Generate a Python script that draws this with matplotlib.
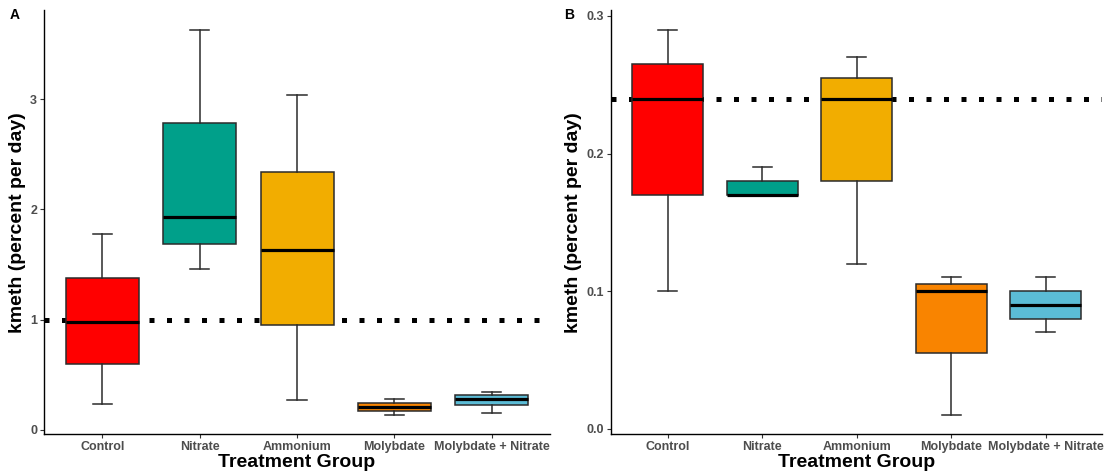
import matplotlib.pyplot as plt

plt.rcParams["font.family"] = ["Liberation Sans", "DejaVu Sans"]
plt.rcParams["font.weight"] = "bold"

groups = ["Control", "Nitrate", "Ammonium", "Molybdate", "Molybdate + Nitrate"]
colors = ["#FF0000", "#00A08A", "#F2AD00", "#F98400", "#5BBCD6"]

# panel A: kmeth summary per group (whisker low, q1, median, q3, whisker high)
a_low = [0.23, 1.46, 0.27, 0.135, 0.155]
a_q1 = [0.60, 1.69, 0.95, 0.17, 0.22]
a_med = [0.98, 1.93, 1.63, 0.21, 0.28]
a_q3 = [1.38, 2.78, 2.34, 0.245, 0.315]
a_high = [1.78, 3.63, 3.04, 0.28, 0.345]
a_ref = 1.0

# panel B
b_low = [0.10, 0.17, 0.12, 0.01, 0.07]
b_q1 = [0.17, 0.17, 0.18, 0.055, 0.08]
b_med = [0.24, 0.17, 0.24, 0.10, 0.09]
b_q3 = [0.265, 0.18, 0.255, 0.105, 0.10]
b_high = [0.29, 0.19, 0.27, 0.11, 0.11]
b_ref = 0.24


def draw_panel(ax, low, q1, med, q3, high, ref, ylim, yticks, ylabels):
    stats = []
    for i in range(len(groups)):
        stats.append({"whislo": low[i], "q1": q1[i], "med": med[i],
                      "q3": q3[i], "whishi": high[i], "fliers": []})
    ax.axhline(ref, color="black", lw=3.6, linestyle=(0, (1, 2.5)),
               dash_capstyle="butt", zorder=1)
    bp = ax.bxp(stats, positions=range(1, 6), widths=0.75, patch_artist=True,
                showfliers=False,
                boxprops=dict(edgecolor="#2b2b2b", linewidth=1.1),
                medianprops=dict(color="black", linewidth=2.3),
                whiskerprops=dict(color="#2b2b2b", linewidth=1.1),
                capprops=dict(color="#2b2b2b", linewidth=1.1),
                capwidths=0.2, zorder=2)
    for patch, c in zip(bp["boxes"], colors):
        patch.set_facecolor(c)
    ax.set_xlim(0.4, 5.6)
    ax.set_ylim(*ylim)
    ax.set_xticks(range(1, 6))
    ax.set_xticklabels(groups, fontsize=9, color="#4D4D4D", fontweight="bold")
    ax.set_yticks(yticks)
    ax.set_yticklabels(ylabels, fontsize=9, color="#4D4D4D", fontweight="bold")
    ax.tick_params(length=3, width=0.8, color="#333333", pad=2)
    for side in ("top", "right"):
        ax.spines[side].set_visible(False)
    for side in ("left", "bottom"):
        ax.spines[side].set_linewidth(1.0)
    ax.set_xlabel("Treatment Group", fontsize=14, fontweight="bold", labelpad=1)
    ax.set_ylabel("kmeth (percent per day)", fontsize=14, fontweight="bold", labelpad=3)


fig = plt.figure(figsize=(11.1, 4.76), dpi=100)
ax_a = fig.add_axes([0.0396, 0.088, 0.456, 0.89])
ax_b = fig.add_axes([0.5505, 0.088, 0.4425, 0.89])

draw_panel(ax_a, a_low, a_q1, a_med, a_q3, a_high, a_ref,
           (-0.04, 3.805), [0, 1, 2, 3], ["0", "1", "2", "3"])
draw_panel(ax_b, b_low, b_q1, b_med, b_q3, b_high, b_ref,
           (-0.004, 0.304), [0.0, 0.1, 0.2, 0.3], ["0.0", "0.1", "0.2", "0.3"])

fig.text(0.009, 0.968, "A", fontsize=10, fontweight="bold", va="center")
fig.text(0.508, 0.968, "B", fontsize=10, fontweight="bold", va="center")

fig.savefig("out.png", dpi=100)
